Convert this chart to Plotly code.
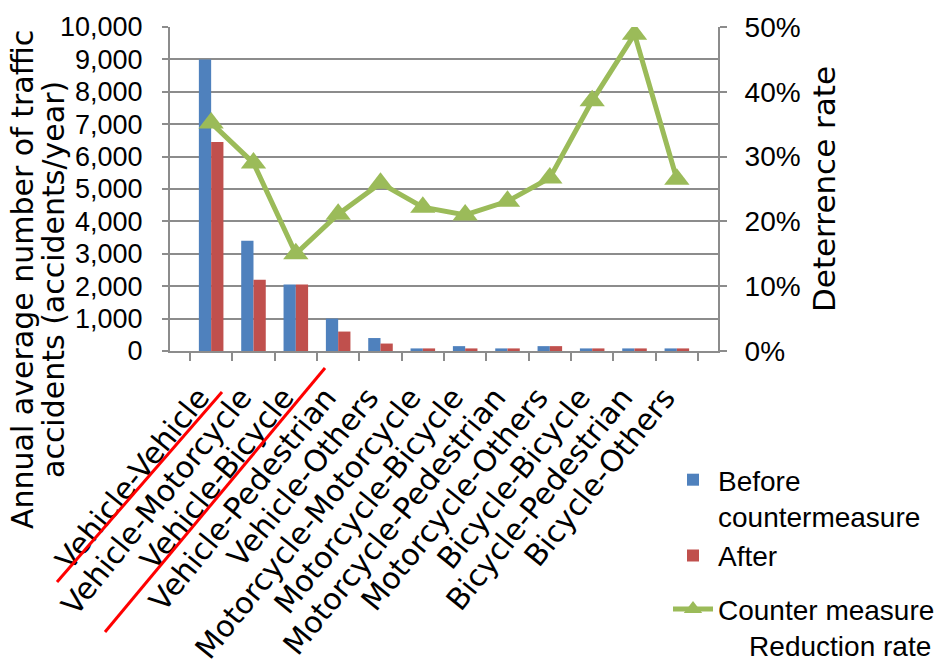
import plotly.graph_objects as go

categories = ["Vehicle-Vehicle", "Vehicle-Motorcycle", "Vehicle-Bicycle", "Vehicle-Pedestrian",
              "Vehicle-Others", "Motorcycle-Motorcycle", "Motorcycle-Bicycle", "Motorcycle-Pedestrian",
              "Motorcycle-Others", "Bicycle-Bicycle", "Bicycle-Pedestrian", "Bicycle-Others"]
before = [9000, 3400, 2050, 1000, 400, 80, 150, 80, 150, 80, 80, 80]
after = [6450, 2200, 2050, 600, 230, 80, 80, 80, 150, 80, 80, 80]
rate = [0.352, 0.290, 0.150, 0.211, 0.259, 0.222, 0.210, 0.231, 0.267, 0.386, 0.489, 0.265]
y_ticks = [0, 1000, 2000, 3000, 4000, 5000, 6000, 7000, 8000, 9000, 10000]
y2_ticks = [0, 0.1, 0.2, 0.3, 0.4, 0.5]
y_title_lines = ["Annual average number of traffic", "accidents (accidents/year)"]

W, H = 951, 664
L, R, T, B = 170, 233, 27, 313
PW, PH = W - L - R, H - T - B
BOTTOM = T + PH


def pxx(x):
    return (x - L) / PW


def pxy(y):
    return (BOTTOM - y) / PH


GRID = "#8C8C8C"
SANS = "Liberation Sans, Arial, sans-serif"
WIDE = "DejaVu Sans, Liberation Sans, sans-serif"
PAD = "\u00a0\u00a0"

fig = go.Figure()
fig.add_bar(x=categories, y=before, name="Before<br>countermeasure", marker_color="#4F81BD",
            marker_line_width=0, legendgroup="bars")
fig.add_bar(x=categories, y=after, name="After", marker_color="#C0504D", marker_line_width=0,
            legendgroup="bars")
fig.add_scatter(x=categories, y=rate, yaxis="y2", mode="lines+markers",
                name="Counter measure<br>\u00a0\u00a0\u00a0\u00a0Reduction rate",
                line=dict(color="#9BBB59", width=5),
                marker=dict(symbol="triangle-up", size=22, color="#9BBB59"),
                legendgroup="line")

fig.update_layout(
    width=W, height=H,
    margin=dict(l=L, r=R, t=T, b=B, pad=0, autoexpand=False),
    paper_bgcolor="white", plot_bgcolor="white",
    barmode="group", bargap=0.42, bargroupgap=0,
    font=dict(family=SANS, size=26, color="black"),
    xaxis=dict(
        tickangle=-51, tickfont=dict(family=WIDE, size=30),
        tickmode="array", tickvals=categories, ticktext=[c + PAD for c in categories],
        showline=True, linecolor=GRID, linewidth=2,
        ticks="outside", tickson="boundaries", ticklen=8, tickcolor=GRID, tickwidth=2,
        showgrid=False, automargin=False,
    ),
    yaxis=dict(
        range=[0, 10000], tickvals=y_ticks, tickformat=",",
        tickfont=dict(family=SANS, size=27), ticklabelstandoff=14,
        showgrid=True, gridcolor=GRID, gridwidth=2,
        showline=True, linecolor=GRID, linewidth=2,
        ticks="outside", ticklen=6, tickcolor=GRID, tickwidth=2,
        zeroline=False, automargin=False,
    ),
    yaxis2=dict(
        overlaying="y", side="right", range=[0, 0.5], tickvals=y2_ticks, tickformat=".0%",
        tickfont=dict(family=SANS, size=28), ticklabelstandoff=12,
        showgrid=False, showline=True, linecolor=GRID, linewidth=2,
        ticks="outside", ticklen=7, tickcolor=GRID, tickwidth=2,
        zeroline=False, automargin=False,
        title=dict(text="Deterrence rate", font=dict(family=WIDE, size=31), standoff=14),
    ),
    legend=dict(
        x=pxx(668), y=pxy(455), xanchor="left", yanchor="top",
        font=dict(family=SANS, size=28), valign="top", traceorder="grouped",
        bgcolor="rgba(0,0,0,0)", tracegroupgap=14, itemwidth=40,
    ),
    showlegend=True,
)

for line_text, cx in zip(y_title_lines, [22, 53]):
    fig.add_annotation(
        text=line_text, textangle=-90, xref="paper", yref="paper",
        x=pxx(cx), y=pxy(280), xanchor="center", yanchor="middle", showarrow=False,
        font=dict(family=WIDE, size=30),
    )

fig.add_shape(type="line", xref="paper", yref="paper",
              x0=pxx(57), y0=pxy(582), x1=pxx(222), y1=pxy(392),
              line=dict(color="#FF0000", width=3))
fig.add_shape(type="line", xref="paper", yref="paper",
              x0=pxx(105), y0=pxy(632), x1=pxx(325), y1=pxy(368),
              line=dict(color="#FF0000", width=3))

fig.write_html("out.html")
